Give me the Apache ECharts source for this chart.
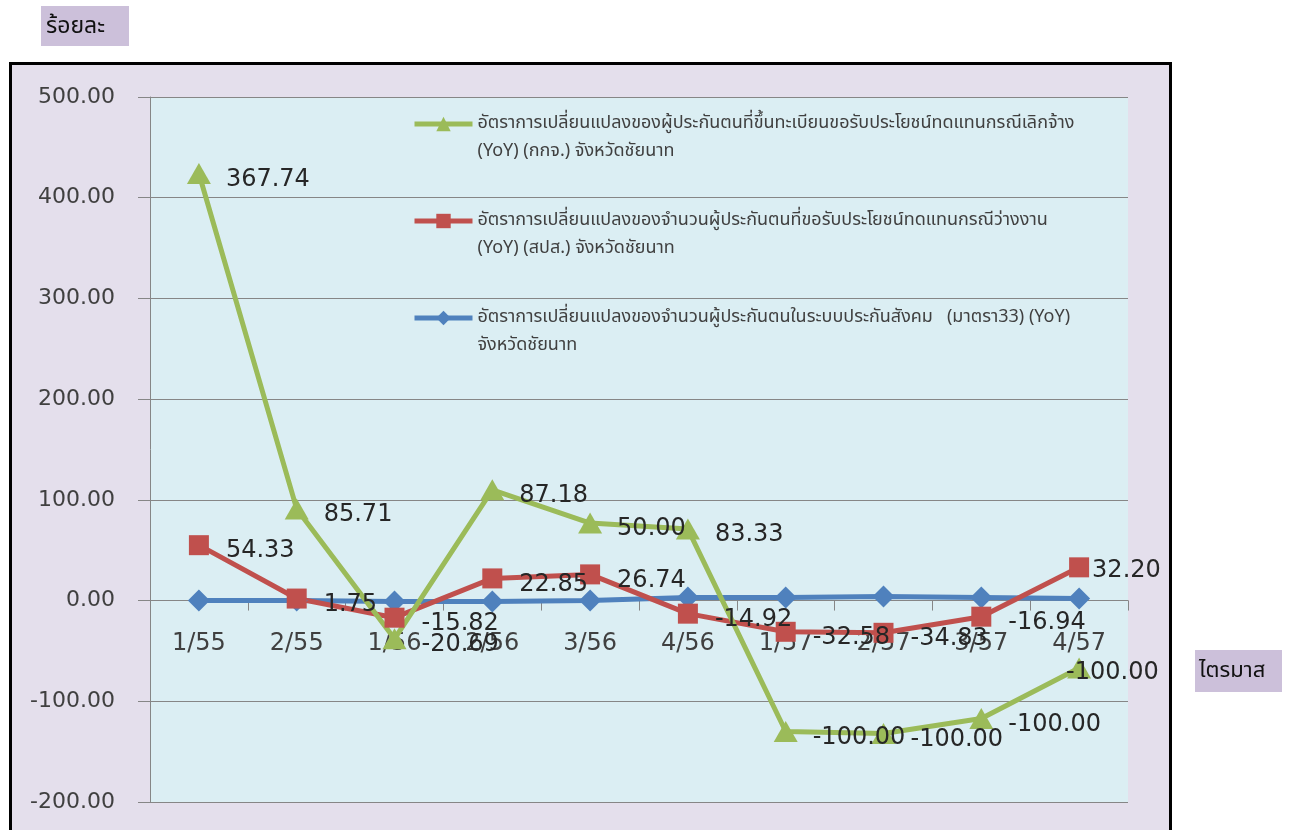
<!DOCTYPE html>
<html>
<head>
<meta charset="utf-8">
<script src="https://cdn.jsdelivr.net/npm/echarts@6/dist/echarts.min.js"></script>
<style>
body { margin: 0; background: #fff; }
#wrap { position: relative; width: 1291px; height: 830px; overflow: hidden; }
.frame { position: absolute; left: 9px; top: 62px; width: 1157px; height: 800px; border: 3px solid #000; background: #e4dfec; }
#main { position: absolute; left: 0; top: 0; width: 1291px; height: 830px; }
</style>
</head>
<body>
<div id="wrap">
  <div class="frame"></div>
  <div id="main"></div>
</div>
<script>
// ไตรมาส
const quarters = ['1/55', '2/55', '1/56', '2/56', '3/56', '4/56', '1/57', '2/57', '3/57', '4/57'];

// กกจ. (green) - plotted points and the printed labels
const layoffValues = [424, 91, -38, 110, 77, 71, -130, -132, -117, -67];
const layoffLabels = ['367.74', '85.71', '-20.69', '87.18', '50.00', '83.33', '-100.00', '-100.00', '-100.00', '-100.00'];

// สปส. (red)
const unemployValues = [55, 2, -17, 22, 26, -13, -31, -32, -16, 33];
const unemployLabels = ['54.33', '1.75', '-15.82', '22.85', '26.74', '-14.92', '-32.58', '-34.83', '-16.94', '32.20'];

// มาตรา33 (blue)
const insuredValues = [0, 0, -1, -1, 0, 3, 3, 4, 3, 2];

const yMin = -200, yMax = 500, yStep = 100;

const legendText = {
  layoff: 'อัตราการเปลี่ยนแปลงของผู้ประกันตนที่ขึ้นทะเบียนขอรับประโยชน์ทดแทนกรณีเลิกจ้าง\n(YoY) (กกจ.) จังหวัดชัยนาท',
  unemploy: 'อัตราการเปลี่ยนแปลงของจำนวนผู้ประกันตนที่ขอรับประโยชน์ทดแทนกรณีว่างงาน\n(YoY) (สปส.) จังหวัดชัยนาท',
  insured: 'อัตราการเปลี่ยนแปลงของจำนวนผู้ประกันตนในระบบประกันสังคม   (มาตรา33) (YoY)\nจังหวัดชัยนาท'
};

const numFont = 'DejaVu Sans, Verdana, sans-serif';
const thaiFont = 'Tahoma, "Noto Sans Thai", "Noto Sans", sans-serif';

let myChart = echarts.init(document.getElementById('main'));

myChart.setOption({
  animation: false,
  grid: {
    left: 150, right: 163, top: 97, bottom: 28,
    containLabel: false,
    outerBoundsMode: 'none',
    show: true, backgroundColor: '#dbeef3', borderWidth: 0
  },
  legend: {
    data: ['layoff', 'unemploy', 'insured'],
    orient: 'vertical',
    left: 407, top: 77,
    itemGap: 13,
    itemWidth: 58,
    itemHeight: 18,
    lineStyle: { width: 5 },
    // leading blank line keeps the icon level with the first text line
    formatter: name => '\n' + legendText[name],
    textStyle: { fontSize: 18, lineHeight: 28, color: '#404040', fontFamily: thaiFont }
  },
  xAxis: {
    type: 'category',
    data: quarters,
    boundaryGap: true,
    axisLine: { onZero: true, lineStyle: { color: '#868686', width: 1 } },
    axisTick: { show: true, length: 10, lineStyle: { color: '#868686' } },
    // labels are laid out from the grid bottom, pull them up under the zero line
    axisLabel: { margin: -170, fontSize: 24, color: '#404040', fontFamily: numFont },
    splitLine: { show: false }
  },
  yAxis: {
    type: 'value',
    min: yMin, max: yMax, interval: yStep,
    axisLine: { show: true, lineStyle: { color: '#868686', width: 1 } },
    axisTick: { show: true, length: 12, lineStyle: { color: '#868686' } },
    axisLabel: { margin: 35, fontSize: 22, color: '#404040', fontFamily: numFont, formatter: v => v.toFixed(2) },
    splitLine: { lineStyle: { color: '#868686', width: 1 } }
  },
  graphic: [
    { type: 'rect', left: 41, top: 6, shape: { width: 88, height: 40 }, style: { fill: '#ccc0da' } },
    { type: 'text', left: 46, top: 17, style: { text: 'ร้อยละ', font: '23px ' + thaiFont, fill: '#111' } },
    { type: 'rect', left: 1195, top: 650, shape: { width: 87, height: 42 }, style: { fill: '#ccc0da' } },
    { type: 'text', left: 1199, top: 662, style: { text: 'ไตรมาส', font: '22px ' + thaiFont, fill: '#111' } }
  ],
  series: [
    {
      name: 'insured',
      type: 'line',
      data: insuredValues,
      symbol: 'diamond',
      symbolSize: 22,
      color: '#4f81bd',
      lineStyle: { width: 5, color: '#4f81bd' },
      itemStyle: { color: '#4f81bd' }
    },
    {
      name: 'unemploy',
      type: 'line',
      data: unemployValues.map((v, i) => i === 9 ? { value: v, label: { offset: [-14, 3] } } : v),
      symbol: 'rect',
      symbolSize: 20,
      color: '#c0504d',
      lineStyle: { width: 5, color: '#c0504d' },
      itemStyle: { color: '#c0504d' },
      label: {
        show: true, position: 'right', distance: 17, offset: [0, 6],
        fontSize: 24, color: '#262626', fontFamily: numFont,
        formatter: p => unemployLabels[p.dataIndex]
      }
    },
    {
      name: 'layoff',
      type: 'line',
      data: layoffValues.map((v, i) => i === 9 ? { value: v, label: { offset: [-40, 5] } } : v),
      symbol: 'triangle',
      symbolSize: [24, 21],
      color: '#9bbb59',
      lineStyle: { width: 5, color: '#9bbb59' },
      itemStyle: { color: '#9bbb59' },
      label: {
        show: true, position: 'right', distance: 15, offset: [0, 6],
        fontSize: 24, color: '#262626', fontFamily: numFont,
        formatter: p => layoffLabels[p.dataIndex]
      }
    }
  ]
});
</script>
</body>
</html>
